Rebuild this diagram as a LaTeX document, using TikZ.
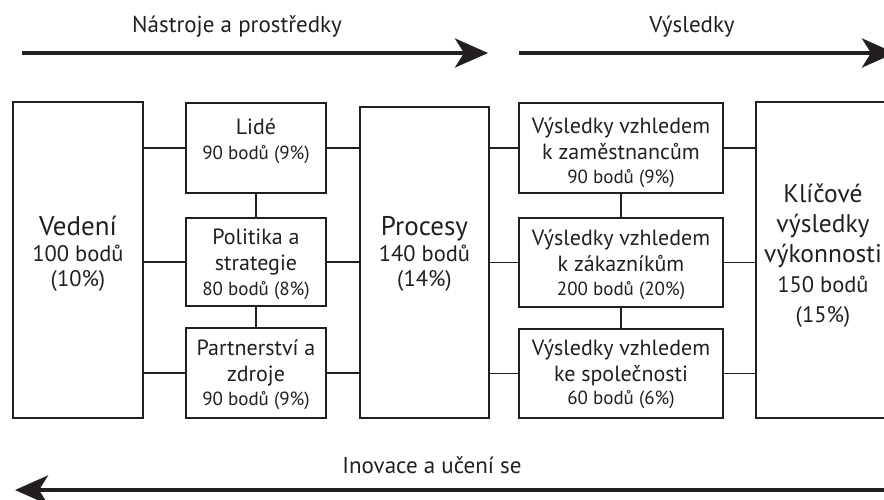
\documentclass[tikz,border=0pt]{standalone}
\usepackage{fontspec}
\setmainfont{PT Sans}
\usetikzlibrary{arrows.meta,calc}
\definecolor{ink}{RGB}{35,31,32}
% type sizes: headings, point lines, box texts, small point lines
\newcommand\txtH{\fontsize{27}{30}\selectfont}
\newcommand\txtK{\fontsize{25.5}{30}\selectfont}
\newcommand\txtN{\fontsize{22.5}{25.5}\selectfont}
\newcommand\txtM{\fontsize{22}{26}\selectfont}
\newcommand\txtS{\fontsize{19}{22}\selectfont}
\begin{document}
\begin{tikzpicture}[x=1pt,y=-1pt,
  box/.style={draw=ink,line width=1.8pt,rectangle,inner sep=0pt},
  link/.style={draw=ink,line width=1.6pt},
  flow/.style={draw=ink,line width=4pt,-{Stealth[length=33pt,width=29pt,inset=9pt]}},
  txt/.style={align=center,text=ink,inner sep=0pt},
  lbl/.style={text=ink,inner sep=0pt,font=\fontsize{23}{27}\selectfont}]
\useasboundingbox (0,0) rectangle (884,499);

% flow arrows with their captions
\coordinate (a1s) at (22,53);  \coordinate (a1e) at (488,53);
\coordinate (a2s) at (519,53); \coordinate (a2e) at (895,53);
\coordinate (a3s) at (900,490); \coordinate (a3e) at (15,490);
\draw[flow] (a1s) -- (a1e);
\draw[flow] (a2s) -- (a2e);
\draw[flow] (a3s) -- (a3e);
\node[lbl] (capA) at (237,27) {Nástroje a prostředky};
\node[lbl] (capB) at (692,27) {Výsledky};
\node[lbl] (capC) at (432,465) {Inovace a učení se};

% boxes
\node[box,minimum width=130pt,minimum height=316pt] (ved) at (78,260) {};
\node[box,minimum width=140pt,minimum height=90pt] (lide) at (256,148) {};
\node[box,minimum width=140pt,minimum height=88pt] (pol) at (256,262) {};
\node[box,minimum width=140pt,minimum height=90pt] (par) at (256,373) {};
\node[box,minimum width=129pt,minimum height=311pt] (proc) at (424.5,262.5) {};
\node[box,minimum width=204pt,minimum height=90pt] (vys1) at (621,148) {};
\node[box,minimum width=204pt,minimum height=89pt] (vys2) at (621,262.5) {};
\node[box,minimum width=204pt,minimum height=89pt] (vys3) at (621,373.5) {};
\node[box,minimum width=140pt,minimum height=316pt] (klic) at (826,260) {};

% box texts
\node[txt,font=\txtN] (vedT) at (78,254) {{\txtH Vedení}\\{100 bodů}\\{(10\%)}};
\node[txt,font=\txtN] (procT) at (424.5,254) {{\txtH Procesy}\\{140 bodů}\\{(14\%)}};
\node[txt,font=\txtK] (klicT) at (823,256)
  {{Klíčové}\\{výsledky}\\{výkonnosti}\\{\txtN 150 bodů}\\{\txtN (15\%)}};
\node[txt,font=\txtM] (lideT) at (256,141) {{Lidé}\\[-1pt]{\txtS 90 bodů (9\%)}};
\node[txt,font=\txtM] (polT) at (256,264.5) {{Politika a}\\{strategie}\\[-1pt]{\txtS 80 bodů (8\%)}};
\node[txt,font=\txtM] (parT) at (256,374.5) {{Partnerství a}\\{zdroje}\\[-2pt]{\txtS 90 bodů (9\%)}};
\node[txt,font=\txtM] (vys1T) at (621,152.5) {{Výsledky vzhledem}\\{k zaměstnancům}\\[-2pt]{\txtS 90 bodů (9\%)}};
\node[txt,font=\txtM] (vys2T) at (621,264.5) {{Výsledky vzhledem}\\{k zákazníkům}\\[-2pt]{\txtS 200 bodů (20\%)}};
\node[txt,font=\txtM] (vys3T) at (621,374.5) {{Výsledky vzhledem}\\{ke společnosti}\\[-3pt]{\txtS 60 bodů (6\%)}};

% connectors
\foreach \b in {lide,pol,par}{
  \draw[link] (\b.west) -- (\b.west -| ved.east);
  \draw[link] (\b.east) -- (\b.east -| proc.west);
}
\foreach \b in {vys1,vys2,vys3}{
  \draw[link] (\b.west) -- (\b.west -| proc.east);
  \draw[link] (\b.east) -- (\b.east -| klic.west);
}
\draw[link] (lide.south) -- (pol.north);
\draw[link] (pol.south) -- (par.north);
\draw[link] (vys1.south) -- (vys2.north);
\draw[link] (vys2.south) -- (vys3.north);
\end{tikzpicture}
\end{document}
